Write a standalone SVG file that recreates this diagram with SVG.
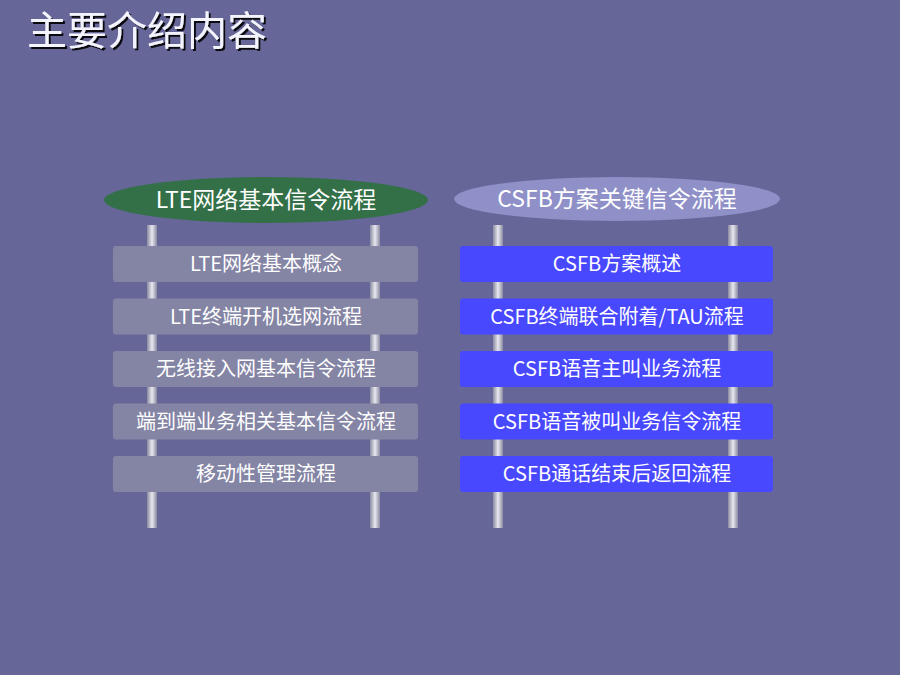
<svg xmlns="http://www.w3.org/2000/svg" width="900" height="675" viewBox="0 0 900 675">
<defs>
<linearGradient id="pole" x1="0" y1="0" x2="1" y2="0">
<stop offset="0" stop-color="#8a8aa0"/>
<stop offset="0.5" stop-color="#e8e8f0"/>
<stop offset="1" stop-color="#8a8aa0"/>
</linearGradient>
<filter id="sh" x="-10%" y="-10%" width="130%" height="140%">
<feDropShadow dx="2" dy="2" stdDeviation="0.6" flood-color="#000" flood-opacity="0.9"/>
</filter>
</defs>
<style>
text{font-family:"Noto Sans CJK SC","Noto Sans",sans-serif;fill:#ffffff;text-anchor:middle}
.box{font-size:20px}
.hd{font-size:23px}
.pole{fill:url(#pole)}
.lb{fill:#8484a4}
.rb{fill:#4848ff}
</style>
<rect width="900" height="675" fill="#666699"/>
<text x="27" y="45" style="font-size:40px;text-anchor:start;fill:#f4f4ff" filter="url(#sh)">主要介绍内容</text>
<g id="poles">
<rect class="pole" x="147" y="225" width="10" height="303"/>
<rect class="pole" x="370" y="225" width="10" height="303"/>
<rect class="pole" x="493" y="225" width="10" height="303"/>
<rect class="pole" x="728" y="225" width="10" height="303"/>
</g>
<g id="lte-head">
<ellipse cx="266" cy="200" rx="162" ry="23" fill="#337048"/>
<text class="hd" x="266" y="208">LTE网络基本信令流程</text>
</g>
<g id="csfb-head">
<ellipse cx="617" cy="199" rx="163" ry="22" fill="#9090c8"/>
<text class="hd" x="617" y="207">CSFB方案关键信令流程</text>
</g>
<g id="l1"><rect class="lb" x="113" y="246" width="305" height="36" rx="3"/><text class="box" x="266" y="271">LTE网络基本概念</text></g>
<g id="l2"><rect class="lb" x="113" y="298.5" width="305" height="36" rx="3"/><text class="box" x="266" y="323.5">LTE终端开机选网流程</text></g>
<g id="l3"><rect class="lb" x="113" y="351" width="305" height="36" rx="3"/><text class="box" x="266" y="376">无线接入网基本信令流程</text></g>
<g id="l4"><rect class="lb" x="113" y="403.5" width="305" height="36" rx="3"/><text class="box" x="266" y="428.5">端到端业务相关基本信令流程</text></g>
<g id="l5"><rect class="lb" x="113" y="456" width="305" height="36" rx="3"/><text class="box" x="266" y="481">移动性管理流程</text></g>
<g id="r1"><rect class="rb" x="460" y="246" width="313" height="36" rx="3"/><text class="box" x="617" y="271">CSFB方案概述</text></g>
<g id="r2"><rect class="rb" x="460" y="298.5" width="313" height="36" rx="3"/><text class="box" x="617" y="323.5">CSFB终端联合附着/TAU流程</text></g>
<g id="r3"><rect class="rb" x="460" y="351" width="313" height="36" rx="3"/><text class="box" x="617" y="376">CSFB语音主叫业务流程</text></g>
<g id="r4"><rect class="rb" x="460" y="403.5" width="313" height="36" rx="3"/><text class="box" x="617" y="428.5">CSFB语音被叫业务信令流程</text></g>
<g id="r5"><rect class="rb" x="460" y="456" width="313" height="36" rx="3"/><text class="box" x="617" y="481">CSFB通话结束后返回流程</text></g>
<g id="connectors"></g>
</svg>
